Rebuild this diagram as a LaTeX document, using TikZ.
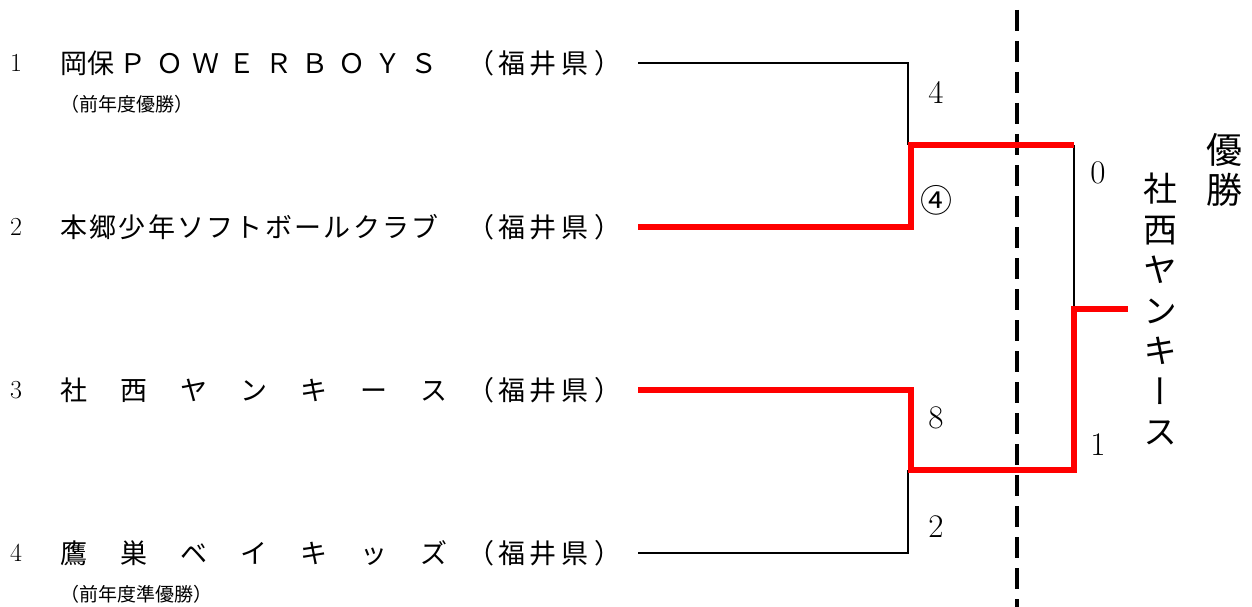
\documentclass[tikz,border=0pt]{standalone}
\usepackage{fontspec}
\newfontfamily\cjk{Noto Sans CJK JP}
\newfontfamily\cjkv[RawFeature=+vert]{Noto Sans CJK JP}
\newcommand\kWide{\kern33pt}
\newcommand\kLet{\kern9.4pt}
\newcommand\kTwo{\kern2.3pt}
\begin{document}
\begin{tikzpicture}[x=1pt,y=-1pt,
  team/.style={anchor=west,inner sep=0pt,font=\cjk\fontsize{27}{27}\selectfont},
  pref/.style={anchor=west,inner sep=0pt,font=\cjk\fontsize{27}{27}\selectfont},
  sub/.style={anchor=west,inner sep=0pt,font=\cjk\fontsize{19}{19}\selectfont},
  num/.style={inner sep=0pt,font=\fontsize{26}{26}\selectfont},
  score/.style={inner sep=0pt,font=\fontsize{33}{33}\selectfont},
  blk/.style={line width=2.8pt,black},
  win/.style={line width=6pt,red},
  divider/.style={line width=4pt,black,dash pattern=on 21pt off 10pt}]
\useasboundingbox (0,0) rectangle (1252,607);
% team labels
\node[num] (n1) at (16,63) {1};
\node[team] (t1) at (60,63) {岡保\kern5.5ptＰ\kLet Ｏ\kLet Ｗ\kLet Ｅ\kLet Ｒ\kLet Ｂ\kLet Ｏ\kLet Ｙ\kLet Ｓ};
\node[pref] (p1) at (467,63) {（\kern4pt 福\kern4.5pt 井\kern4.5pt 県\kern6pt ）};
\node[sub] (s1) at (60,104) {（前年度優勝）};
\node[num] (n2) at (16,227) {2};
\node[team] (t2) at (60,227) {本\kTwo 郷\kTwo 少\kTwo 年\kTwo ソ\kTwo フ\kTwo ト\kTwo ボ\kTwo ー\kTwo ル\kTwo ク\kTwo ラ\kTwo ブ};
\node[pref] (p2) at (467,227) {（\kern4pt 福\kern4.5pt 井\kern4.5pt 県\kern6pt ）};
\node[num] (n3) at (16,390) {3};
\node[team] (t3) at (60,390) {社\kWide 西\kWide ヤ\kWide ン\kWide キ\kWide ー\kWide ス};
\node[pref] (p3) at (467,390) {（\kern4pt 福\kern4.5pt 井\kern4.5pt 県\kern6pt ）};
\node[num] (n4) at (16,553) {4};
\node[team] (t4) at (60,553) {鷹\kWide 巣\kWide ベ\kWide イ\kWide キ\kWide ッ\kWide ズ};
\node[pref] (p4) at (467,553) {（\kern4pt 福\kern4.5pt 井\kern4.5pt 県\kern6pt ）};
\node[sub] (s4) at (60,594) {（前年度準優勝）};
% scores
\node[score] (sc1) at (936,92) {4};
\node[inner sep=0pt,font=\cjk\fontsize{32}{32}\selectfont] (sc2) at (936,200) {④};
\node[score] (sc3) at (936,418) {8};
\node[score] (sc4) at (936,527) {2};
\node[score] (sf1) at (1098,173) {0};
\node[score] (sf2) at (1098,445) {1};
% winner
\node[inner sep=0pt,align=center,font=\cjk\fontsize{36}{40}\selectfont] (title) at (1224,170) {優\\勝};
\node[inner sep=0pt,align=center,font=\cjkv\fontsize{34}{40.5}\selectfont] (champ) at (1160,309) {社\\西\\ヤ\\ン\\キ\\ー\\ス};
% bracket points
\coordinate (a1) at (638,63);
\coordinate (b1) at (908,63);
\coordinate (c1) at (908,145);
\coordinate (a2) at (638,227);
\coordinate (b2) at (911,227);
\coordinate (m1) at (911,145);
\coordinate (f1) at (1074,145);
\coordinate (f2) at (1074,309);
\coordinate (fw) at (1128,309);
\coordinate (a3) at (638,390);
\coordinate (b3) at (911,390);
\coordinate (m2) at (911,470);
\coordinate (f3) at (1074,470);
\coordinate (a4) at (638,553);
\coordinate (b4) at (908,553);
\coordinate (c4) at (908,470);
% divider
\coordinate (d1) at (1017,10);
\coordinate (d2) at (1017,607);
\draw[divider] (d1) -- (d2);
% black lines
\draw[blk] (a1) -- (b1) -- (c1);
\draw[blk] (a4) -- (b4) -- (c4);
\draw[blk] (f1) -- (f2);
% red lines
\draw[win] (a2) -- (b2) -- (m1) -- (f1);
\draw[win] (a3) -- (b3) -- (m2) -- (f3) -- (f2) -- (fw);
\end{tikzpicture}
\end{document}
